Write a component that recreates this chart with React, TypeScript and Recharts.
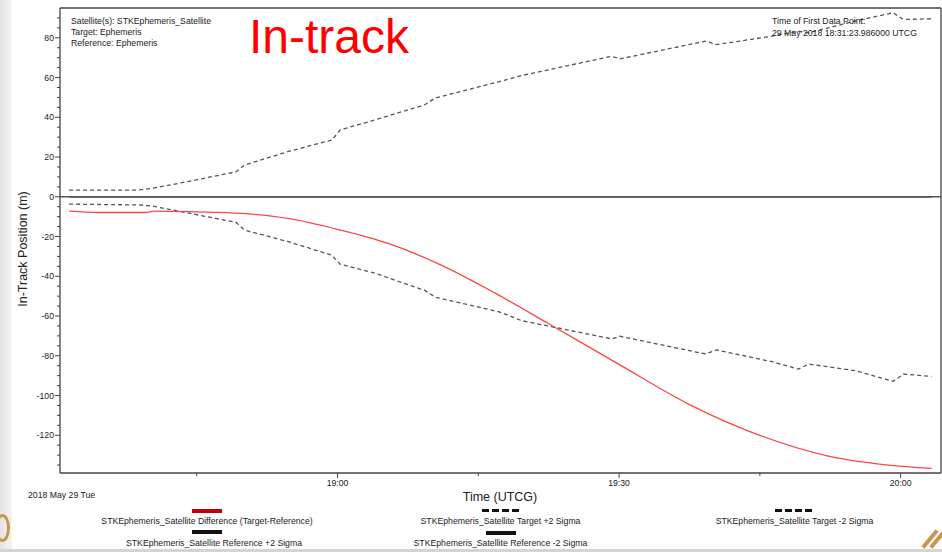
import React from "react";
import { LineChart, Line, XAxis, YAxis, ReferenceLine } from "recharts";

// time in minutes after 18:00 UTCG
const sigmaTimes = [
  31.4, 38.8, 40.2, 44.0, 49.2, 50.1, 54.7, 59.4, 60.3, 64.0, 69.3, 70.4, 77.3,
  79.6, 89.2, 90.1, 99.2, 100.4, 106.3, 109.1, 110.2, 115.2, 119.2, 120.3, 123.3,
];
const targetPlus = [
  3.4, 3.4, 4.2, 7.6, 12.6, 16, 22.7, 28.6, 33.7, 38.7, 46.3, 49.7, 58, 61,
  70.7, 69.4, 78.3, 76.6, 80.8, 83.3, 82.5, 88.5, 92.6, 89.2, 89.6,
];
const targetMinus = [
  -3.7, -4.1, -4.6, -8.1, -12.9, -16.8, -22.5, -29.4, -34, -38.5, -47.1, -50.5,
  -58, -62.3, -71.5, -70.2, -79.1, -77.1, -83.0, -86.7, -84.2, -87.5, -92.9,
  -89.2, -90.4,
];
const diffTimes = [
  31.4, 34.5, 39.5, 40.5, 44.8, 49.8, 54.7, 60.1, 65.4, 71.1, 76.8, 82.5, 89.9,
  97.4, 105.2, 112.3, 118.7, 123.3,
];
const diffValues = [
  -7.2, -7.9, -7.9, -7.2, -7.6, -8.4, -10.9, -16.5, -23.5, -34.5, -48.5, -63.9,
  -84.1, -104.3, -120.4, -130.5, -135, -136.7,
];
const refTimes = [31.4, 123.3];
const refPlus = [0, 0];
const refMinus = [0, 0];

const xTicks = [45, 60, 75, 90, 105, 120];
const xTickLabels: Record<number, string> = { 60: "19:00", 90: "19:30", 120: "20:00" };
const yTicks = [
  -135, -130, -125, -120, -115, -110, -105, -100, -95, -90, -85, -80, -75, -70,
  -65, -60, -55, -50, -45, -40, -35, -30, -25, -20, -15, -10, -5, 0, 5, 10, 15,
  20, 25, 30, 35, 40, 45, 50, 55, 60, 65, 70, 75, 80, 85, 90,
];
const yLabeled = [-120, -100, -80, -60, -40, -20, 0, 20, 40, 60, 80];

const X_DOMAIN = [30.43, 124.3];
const Y_DOMAIN = [-139, 95];

const FONT = "'Liberation Sans', Arial, sans-serif";
const AXIS = "#444";
const TEXT = "#222";

const toRows = (ts: number[], vs: number[]) => ts.map((t, i) => ({ t, v: vs[i] }));

const YTick = (props: any) => {
  const { x, y, payload } = props;
  const major = yLabeled.includes(payload.value);
  return (
    <g>
      <line x1={x - (major ? 5 : 3)} x2={x} y1={y} y2={y} stroke={AXIS} />
      {major && (
        <text x={x - 6} y={y} dy="0.35em" textAnchor="end" fontSize={8.7} fill={TEXT} fontFamily={FONT}>
          {payload.value}
        </text>
      )}
    </g>
  );
};

const XTick = (props: any) => {
  const { x, y, payload } = props;
  const label = xTickLabels[payload.value];
  return (
    <g>
      <line x1={x} x2={x} y1={y} y2={y + (label ? 5 : 3)} stroke={AXIS} />
      {label && (
        <text x={x} y={y + 10} dy="0.35em" textAnchor="middle" fontSize={8.7} fill={TEXT} fontFamily={FONT}>
          {label}
        </text>
      )}
    </g>
  );
};

function Txt({
  x,
  y,
  size = 8.7,
  align = "left",
  color = TEXT,
  children,
}: {
  x: number;
  y: number;
  size?: number;
  align?: "left" | "center";
  color?: string;
  children: React.ReactNode;
}) {
  return (
    <div
      style={{
        position: "absolute",
        left: x,
        top: y - size / 2,
        transform: align === "center" ? "translateX(-50%)" : undefined,
        fontSize: size,
        lineHeight: `${size}px`,
        whiteSpace: "nowrap",
        color,
        fontFamily: FONT,
      }}
    >
      {children}
    </div>
  );
}

const Bar = ({ x, y, w, h, bg }: { x: number; y: number; w: number; h: number; bg: string }) => (
  <div style={{ position: "absolute", left: x, top: y, width: w, height: h, background: bg }} />
);

const DASH_BG = "repeating-linear-gradient(90deg, #111 0 7px, transparent 7px 10px)";

export default function App() {
  return (
    <div
      style={{
        position: "absolute",
        left: 0,
        top: 0,
        width: 942,
        height: 552,
        background: "#fff",
        overflow: "hidden",
        fontFamily: FONT,
      }}
    >
      {/* slide edges */}
      <Bar x={0} y={0} w={12} h={552} bg="linear-gradient(90deg, #e4e4e4, #f3f3f3)" />
      <Bar x={0} y={549} w={942} h={3} bg="#d4d4d4" />
      <div style={{ position: "absolute", left: -5, top: 514, width: 9, height: 22, borderRadius: "50%", border: "3px solid #c9964f" }} />
      <div style={{ position: "absolute", left: 928, top: 528, width: 4, height: 22, background: "#c9964f", transform: "rotate(40deg)" }} />
      <div style={{ position: "absolute", left: 936, top: 528, width: 4, height: 22, background: "#c9964f", transform: "rotate(40deg)" }} />

      <div style={{ position: "absolute", left: 0, top: 0 }}>
        <LineChart width={942} height={552} margin={{ top: 8, right: 1, bottom: 0, left: 0 }}>
          <XAxis
            dataKey="t"
            type="number"
            domain={X_DOMAIN}
            allowDataOverflow
            ticks={xTicks}
            interval={0}
            height={79}
            tickSize={0}
            tickMargin={0}
            tickLine={false}
            tick={XTick}
            axisLine={{ stroke: AXIS, strokeWidth: 1.3 }}
          />
          <YAxis
            type="number"
            domain={Y_DOMAIN}
            allowDataOverflow
            ticks={yTicks}
            interval={0}
            width={60}
            tickSize={0}
            tickMargin={0}
            tickLine={false}
            tick={YTick}
            axisLine={{ stroke: AXIS, strokeWidth: 1.3 }}
          />
          <ReferenceLine y={Y_DOMAIN[1]} stroke={AXIS} strokeWidth={1.3} />
          <ReferenceLine x={X_DOMAIN[1]} stroke={AXIS} strokeWidth={1.3} />
          <ReferenceLine y={0} stroke="#555" strokeWidth={1.5} />
          <Line
            data={toRows(refTimes, refPlus)}
            dataKey="v"
            stroke="#555"
            strokeWidth={1.5}
            dot={false}
            activeDot={false}
            isAnimationActive={false}
          />
          <Line
            data={toRows(refTimes, refMinus)}
            dataKey="v"
            stroke="#555"
            strokeWidth={1.5}
            dot={false}
            activeDot={false}
            isAnimationActive={false}
          />
          <Line
            data={toRows(sigmaTimes, targetPlus)}
            dataKey="v"
            type="linear"
            stroke="#555"
            strokeWidth={1.3}
            strokeDasharray="4 3"
            dot={false}
            activeDot={false}
            isAnimationActive={false}
          />
          <Line
            data={toRows(sigmaTimes, targetMinus)}
            dataKey="v"
            type="linear"
            stroke="#555"
            strokeWidth={1.3}
            strokeDasharray="4 3"
            dot={false}
            activeDot={false}
            isAnimationActive={false}
          />
          <Line
            data={toRows(diffTimes, diffValues)}
            dataKey="v"
            type="monotone"
            stroke="#ff4545"
            strokeWidth={1.3}
            dot={false}
            activeDot={false}
            isAnimationActive={false}
          />
        </LineChart>
      </div>

      {/* annotations */}
      <Txt x={71} y={21.7}>Satellite(s): STKEphemeris_Satellite</Txt>
      <Txt x={71} y={32.7}>Target: Ephemeris</Txt>
      <Txt x={71} y={43.5}>Reference: Ephemeris</Txt>
      <Txt x={249} y={37} size={48} color="#ff0000">In-track</Txt>
      <Txt x={772} y={21.7}>Time of First Data Point:</Txt>
      <Txt x={772} y={33}>29 May 2018 18:31:23.986000 UTCG</Txt>

      <div
        style={{
          position: "absolute",
          left: 23,
          top: 249,
          transform: "translate(-50%, -50%) rotate(-90deg)",
          fontSize: 12.5,
          lineHeight: "12.5px",
          whiteSpace: "nowrap",
          color: TEXT,
          fontFamily: FONT,
        }}
      >
        In-Track Position (m)
      </div>
      <Txt x={500} y={497} size={12.5} align="center">Time (UTCG)</Txt>
      <Txt x={28} y={495}>2018 May 29 Tue</Txt>

      {/* legend */}
      <Bar x={192} y={509} w={30} h={4} bg="#c40000" />
      <Txt x={207} y={521} align="center">STKEphemeris_Satellite Difference (Target-Reference)</Txt>
      <Bar x={482} y={509} w={37} h={3} bg={DASH_BG} />
      <Txt x={500.5} y={521} align="center">STKEphemeris_Satellite Target +2 Sigma</Txt>
      <Bar x={775} y={509} w={37} h={3} bg={DASH_BG} />
      <Txt x={794.5} y={521} align="center">STKEphemeris_Satellite Target -2 Sigma</Txt>
      <Bar x={192} y={530} w={30} h={4} bg="#111" />
      <Txt x={214} y={543} align="center">STKEphemeris_Satellite Reference +2 Sigma</Txt>
      <Bar x={486} y={531} w={30} h={3.5} bg="#111" />
      <Txt x={500.5} y={543} align="center">STKEphemeris_Satellite Reference -2 Sigma</Txt>
    </div>
  );
}
